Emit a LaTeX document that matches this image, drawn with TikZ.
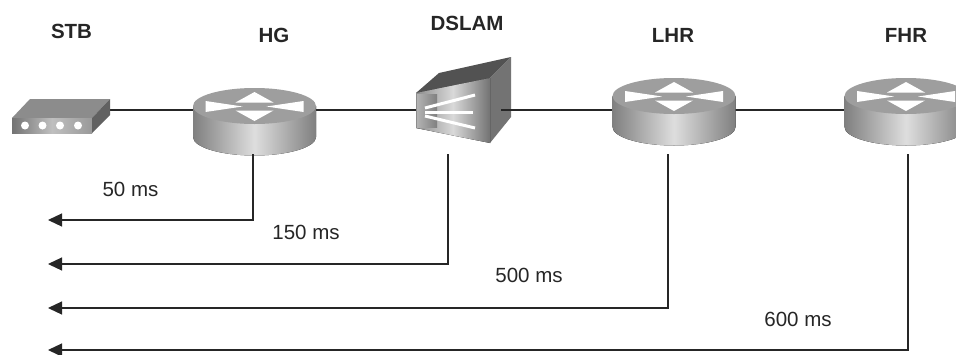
\documentclass[tikz,border=0pt]{standalone}
\usepackage{fontspec}
\setmainfont{Liberation Sans}
\usetikzlibrary{arrows.meta}
\definecolor{topg}{gray}{0.62}
\definecolor{sideg}{gray}{0.50}
\definecolor{midg}{gray}{0.87}
\tikzset{
  x=1pt,y=-1pt,
  devtitle/.style={font=\fontsize{20.5}{23}\selectfont\bfseries,inner sep=0pt,text=black!85},
  delay/.style={font=\fontsize{20.5}{23}\selectfont,inner sep=0pt,text=black!85},
  link/.style={draw=black!85,line width=1.3pt},
  delayline/.style={draw=black!85,line width=1.2pt,-{Triangle[length=14pt,width=13pt]}},
  routerbox/.style={inner sep=0pt,minimum width=123pt,minimum height=66pt,draw=none}
}
\newcommand{\routerdraw}[2]{% centre x, top-ellipse centre y
  \begin{scope}[shift={(#1,#2)}]
    \fill[left color=sideg,right color=sideg,middle color=midg]
      (-61.5,0) -- (-61.5,31) arc[start angle=180,end angle=0,x radius=61.5,y radius=18.5]
      -- (61.5,0) -- cycle;
    \fill[topg] (0,0) ellipse[x radius=61.5,y radius=18];
    \fill[white] (0,-14) -- (19,-3.5) -- (-19,-3.5) -- cycle;
    \fill[white] (0,15) -- (19,4.5) -- (-19,4.5) -- cycle;
    \fill[white] (-49,-5) -- (-12,0.5) -- (-49,6) -- cycle;
    \fill[white] (49,-5) -- (12,0.5) -- (49,6) -- cycle;
  \end{scope}}
\begin{document}
\begin{tikzpicture}
\useasboundingbox (0,0) rectangle (956,354);
\fill[white] (0,0) rectangle (956,354);
% anchors
\node[routerbox] (hg) at (254.5,121) {};
\node[routerbox] (lhr) at (674,111) {};
\node[routerbox] (fhr) at (906,111) {};
\node[inner sep=0pt,minimum width=98pt,minimum height=34pt] (stb) at (61,116) {};
\node[inner sep=0pt,minimum width=95pt,minimum height=86pt] (dslam) at (464,100) {};
\coordinate (e1) at (48,220);
\coordinate (e2) at (48,264);
\coordinate (e3) at (48,308);
\coordinate (e4) at (48,350);
% links
\draw[link] (stb.east |- 0,110) -- (hg.west |- 0,110);
\draw[link] (hg.east |- 0,110) -- (dslam.west |- 0,110);
\draw[link] (lhr.west |- 0,110) -- (fhr.west |- 0,110);
% devices
\routerdraw{254.5}{106}
\routerdraw{674}{96}
\routerdraw{906}{96}
% STB
\fill[black!45] (12,118) -- (30,99) -- (110,99) -- (92,118) -- cycle;
\fill[left color=black!55,right color=black!40,middle color=black!25] (12,118) rectangle (92,133);
\fill[black!62] (92,118) -- (110,99) -- (110,115) -- (92,133) -- cycle;
\foreach \xx in {25,42.5,60,78}{\fill[white] (\xx,125.5) circle[radius=4];}
% DSLAM
\fill[black!68] (416,93) -- (439,73) -- (511,57) -- (490,78) -- cycle;
\fill[black!55] (490,78) -- (511,57) -- (511,117) -- (490,143) -- cycle;
\fill[left color=black!45,right color=black!55,middle color=black!15] (416,93) -- (490,78) -- (490,143) -- (416,128) -- cycle;
\fill[left color=black!30,middle color=white,right color=black!50] (417,94.5) rectangle (437,127.5);
\draw[white,line width=3pt] (425,108) -- (475,95);
\draw[white,line width=3pt] (425,112) -- (473,112);
\draw[white,line width=3pt] (425,116) -- (475,128);
\draw[link] (dslam.east |- 0,110) ++(-10.5,0) -- (lhr.west |- 0,110);
% delay connectors
\draw[delayline] (253,154) |- (e1);
\draw[delayline] (448,154) |- (e2);
\draw[delayline] (668,154) |- (e3);
\draw[delayline] (908,154) |- (e4);
% labels
\node[devtitle] (tstb) at (71.5,31) {STB};
\node[devtitle] (thg) at (274,35) {HG};
\node[devtitle] (tds) at (467,23) {DSLAM};
\node[devtitle] (tlhr) at (673,35) {LHR};
\node[devtitle] (tfhr) at (906,35) {FHR};
\node[delay] (d1) at (130.5,189) {50 ms};
\node[delay] (d2) at (306,232) {150 ms};
\node[delay] (d3) at (529,275) {500 ms};
\node[delay] (d4) at (798,319) {600 ms};
\end{tikzpicture}
\end{document}
